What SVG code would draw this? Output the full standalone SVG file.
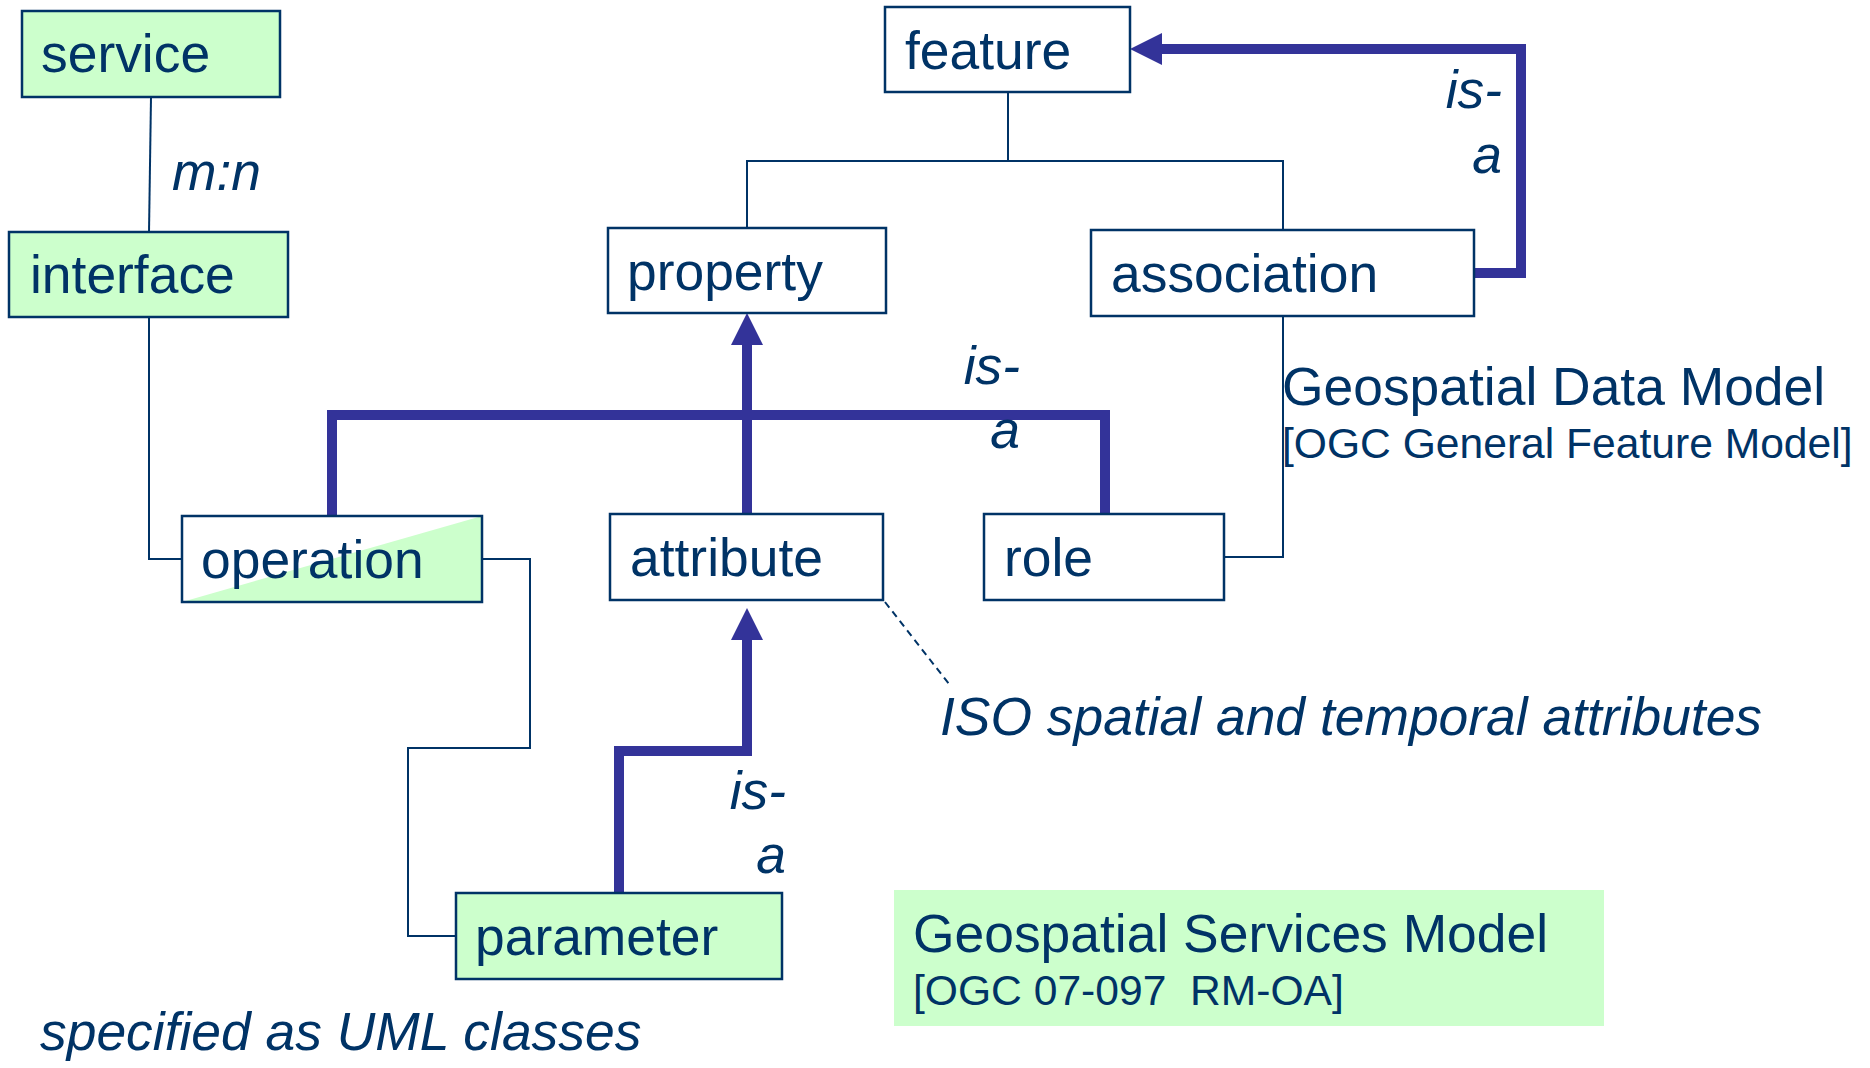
<svg xmlns="http://www.w3.org/2000/svg" width="1870" height="1068" viewBox="0 0 1870 1068">
<style>
.box{stroke:#003366;stroke-width:2.5}
.g{fill:#CCFFCC}
.w{fill:#FFFFFF}
.t{font-family:"Liberation Sans",Arial,sans-serif;font-size:53.4px;fill:#003366}
.s{font-size:42.6px}
.i{font-style:italic}
.thin{fill:none;stroke:#003366;stroke-width:2}
.thick{fill:none;stroke:#333399;stroke-width:10}
.dash{fill:none;stroke:#003366;stroke-width:2;stroke-dasharray:7 5}
</style>
<defs>
<marker id="ah" markerUnits="userSpaceOnUse" markerWidth="32" markerHeight="32" refX="0" refY="16" orient="auto" overflow="visible">
<path d="M0,0 L32,16 L0,32 z" fill="#333399"/>
</marker>
</defs>
<rect width="1870" height="1068" fill="#FFFFFF"/>
<g id="connectors">
<path class="thin" d="M151,97 L149,232"/>
<path class="thin" d="M149,317 V559 H182"/>
<path class="thin" d="M482,559 H530 V748 H408 V936 H456"/>
<path class="thin" d="M1008,92 V161 H747 V228"/>
<path class="thin" d="M1008,161 H1283 V230"/>
<path class="thin" d="M1283,316 V557 H1224"/>
<path class="dash" d="M885,602 L949,684"/>
<path class="thick" d="M1474,273 H1521 V49 H1162" marker-end="url(#ah)"/>
<path class="thick" d="M332,516 V415 H1105 V513"/>
<path class="thick" d="M747,514 V345" marker-end="url(#ah)"/>
<path class="thick" d="M619,893 V751 H747 V640" marker-end="url(#ah)"/>
</g>
<g id="service">
<rect class="box g" x="22" y="11" width="258" height="86"/>
<text class="t" x="41" y="72">service</text>
</g>
<text id="mn" class="t i" x="172" y="190">m:n</text>
<g id="interface">
<rect class="box g" x="9" y="232" width="279" height="85"/>
<text class="t" x="30" y="293">interface</text>
</g>
<g id="feature">
<rect class="box w" x="885" y="7" width="245" height="85"/>
<text class="t" x="905" y="69">feature</text>
</g>
<g id="property">
<rect class="box w" x="608" y="228" width="278" height="85"/>
<text class="t" x="627" y="290">property</text>
</g>
<g id="association">
<rect class="box w" x="1091" y="230" width="383" height="86"/>
<text class="t" x="1111" y="292">association</text>
</g>
<g id="operation">
<rect x="182" y="516" width="300" height="86" fill="#FFFFFF"/>
<polygon class="g" points="182,602 482,516 482,602"/>
<rect class="box" x="182" y="516" width="300" height="86" fill="none"/>
<text class="t" x="201" y="578">operation</text>
</g>
<g id="attribute">
<rect class="box w" x="610" y="514" width="273" height="86"/>
<text class="t" x="630" y="576">attribute</text>
</g>
<g id="role">
<rect class="box w" x="984" y="514" width="240" height="86"/>
<text class="t" x="1004" y="576">role</text>
</g>
<g id="parameter">
<rect class="box g" x="456" y="893" width="326" height="86"/>
<text class="t" x="475" y="955">parameter</text>
</g>
<g id="labels">
<text class="t i" x="1502" y="108" text-anchor="end">is-</text>
<text class="t i" x="1502" y="173" text-anchor="end">a</text>
<text class="t i" x="1020" y="384" text-anchor="end">is-</text>
<text class="t i" x="1020" y="448" text-anchor="end">a</text>
<text class="t i" x="786" y="809" text-anchor="end">is-</text>
<text class="t i" x="786" y="873" text-anchor="end">a</text>
<text class="t i" x="940" y="735">ISO spatial and temporal attributes</text>
<text class="t i" x="40" y="1050">specified as UML classes</text>
</g>
<g id="data-model">
<text class="t" x="1282" y="405">Geospatial Data Model</text>
<text class="t s" x="1282" y="458">[OGC General Feature Model]</text>
</g>
<g id="services-model">
<rect class="g" x="894" y="890" width="710" height="136"/>
<text class="t" x="913" y="952">Geospatial Services Model</text>
<text class="t s" x="913" y="1005" xml:space="preserve">[OGC 07-097  RM-OA]</text>
</g>
</svg>
